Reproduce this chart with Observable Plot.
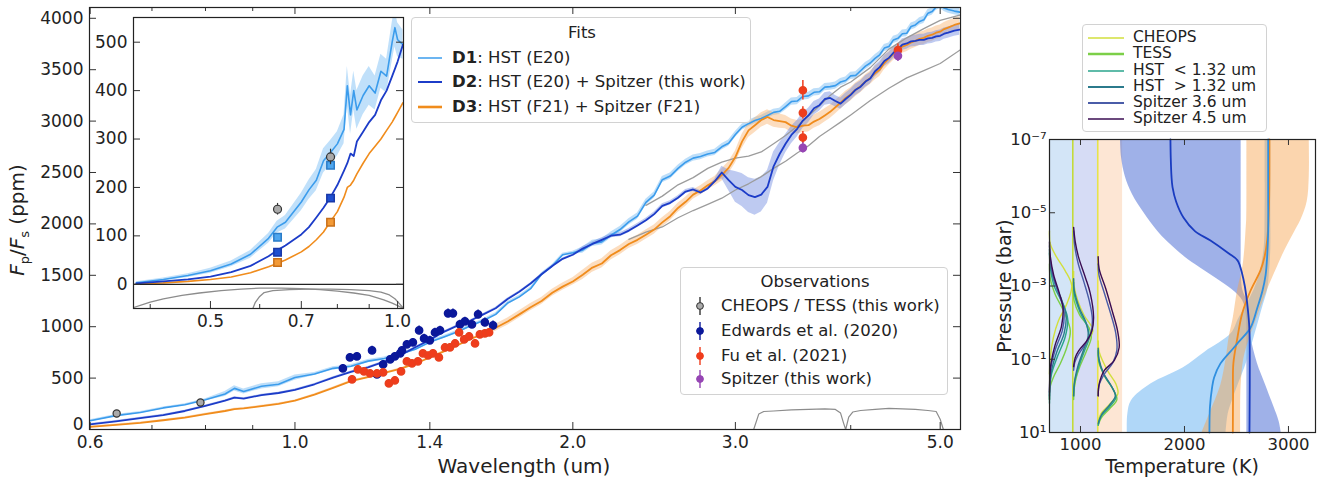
<!DOCTYPE html>
<html>
<head>
<meta charset="utf-8">
<script src="https://cdn.jsdelivr.net/npm/d3@7"></script>
<script src="https://cdn.jsdelivr.net/npm/@observablehq/plot@0.6"></script>
<style>
html,body{margin:0;padding:0;background:#fff;}
#root{position:relative;width:1330px;height:483px;overflow:hidden;font-family:"DejaVu Sans",sans-serif;color:#222;}
.lg{position:absolute;box-sizing:border-box;background:rgba(255,255,255,0.88);border:1px solid #d2d2d2;border-radius:4px;}
.lg .t{position:absolute;white-space:pre;line-height:1;}
.lab{position:absolute;white-space:nowrap;line-height:1;}
</style>
</head>
<body>
<div id="root"></div>
<script>
// ================= MAIN PANEL DATA =================
const mainXTicks = [0.6, 1.0, 1.4, 2.0, 3.0, 5.0];
const mainXMinor = [0.7, 0.8, 0.9, 4.0];
const mainYTicks = [0, 500, 1000, 1500, 2000, 2500, 3000, 3500, 4000];

const mainW = [0.60,0.64,0.68,0.72,0.76,0.80,0.84,0.86,0.88,0.92,0.96,1.00,
  1.05,1.10,1.15,1.20,1.25,1.30,1.35,1.40,1.45,1.50,1.55,1.60,1.65,1.70,1.75,1.80,1.85,1.90,1.95,2.00,
  2.05,2.10,2.15,2.20,2.25,2.30,2.35,2.40,2.45,2.50,2.55,2.60,2.65,2.70,2.75,2.80,2.85,2.90,2.95,3.00,
  3.05,3.10,3.15,3.20,3.25,3.30,3.35,
  3.40,3.45,3.50,3.55,3.60,3.65,3.70,3.75,3.80,3.85,3.90,3.95,4.00,4.05,4.10,4.15,4.20,4.25,4.30,4.35,
  4.40,4.45,4.50,4.55,4.60,4.65,4.70,4.75,4.80,4.85,4.90,4.95,5.00,5.05,5.10,5.18,5.25];
const d1Main = [85,135,165,210,240,290,345,400,370,420,440,505,
  540,595,615,665,690,735,780,850,900,950,1010,1060,1120,1230,1290,1370,1510,1590,1700,1720,
  1745,1810,1825,1890,1945,2020,2075,2210,2280,2430,2465,2540,2600,2640,2655,2680,2695,2750,2785,2870,
  2940,2975,3005,3025,3055,3085,3095,
  3140,3190,3195,3240,3245,3280,3285,3330,3335,3345,3380,3395,3440,3445,3490,3535,3565,3610,3645,3710,
  3725,3790,3805,3850,3855,3920,3935,3970,3985,4050,4065,4110,4130,4100,4085,4070,4060];
const d1Err = [10,10,10,10,10,10,25,25,25,25,25,25,
  15,15,15,15,15,15,15,15,15,15,15,15,15,15,15,15,15,15,15,15,
  30,30,30,30,30,30,30,30,30,30,30,30,30,30,30,30,30,30,30,30,
  30,30,30,30,30,30,30,
  35,35,35,35,35,35,35,35,35,35,35,35,35,35,35,35,35,35,35,35,
  35,35,35,35,35,35,35,35,35,35,35,35,35,35,35,35,35];
const d2Main = [50,80,110,140,180,230,280,310,300,335,355,385,
  440,505,560,605,660,720,800,870,950,1010,1060,1120,1180,1270,1340,1420,1510,1590,1660,1700,
  1760,1805,1845,1885,1895,1935,1985,2035,2095,2175,2205,2255,2315,2335,2305,2345,2415,2500,2425,2360,
  2330,2280,2260,2285,2360,2560,2680,
  2780,2865,2925,3005,3055,3125,3155,3215,3225,3195,3170,3215,3255,3305,3335,3385,3415,3485,3525,3585,
  3615,3665,3700,3745,3755,3775,3780,3790,3790,3805,3810,3825,3830,3850,3860,3880,3890];
const d2Err = [8,8,8,8,8,8,8,8,8,8,8,8,
  8,8,8,8,8,8,8,8,8,8,8,8,8,8,8,8,8,8,8,8,
  20,20,20,20,20,20,20,20,20,20,20,20,20,20,20,20,20,60,100,150,
  160,170,175,170,160,140,110,
  90,85,80,75,70,65,60,60,60,55,55,55,55,55,55,55,55,55,55,55,
  55,55,55,55,55,55,55,55,55,55,55,55,55,55,55,55,55];
const d3Main = [25,45,65,90,115,150,180,198,205,228,250,280,
  340,405,470,510,550,590,640,700,760,820,880,930,990,1050,1120,1190,1250,1330,1390,1440,
  1505,1575,1615,1695,1745,1805,1845,1895,1945,2015,2075,2155,2215,2285,2325,2375,2415,2475,2545,2650,
  2800,2910,2960,3010,3040,3010,3000,
  2990,2955,2940,2955,2960,2995,3020,3055,3090,3135,3180,3225,3260,3305,3340,3385,3420,3465,3500,3565,
  3610,3655,3690,3725,3740,3765,3780,3800,3810,3830,3840,3860,3870,3895,3910,3935,3950];
const d3Err = [8,8,8,8,8,8,8,8,8,8,8,8,
  8,8,8,8,8,8,8,8,8,8,8,8,35,35,35,35,35,35,35,35,
  45,45,45,45,45,45,45,45,45,45,45,45,45,45,45,45,45,60,60,60,
  70,70,70,70,70,70,70,
  65,65,65,65,65,65,65,65,65,65,65,65,65,65,65,65,65,65,65,65,
  65,65,65,65,65,65,65,65,65,65,65,65,65,65,65,65,65];

// reference (grey) spectra
const gray1W = [2.40,2.50,2.60,2.70,2.80,2.90,3.00,3.10,3.20,3.30,3.40,3.50,3.60,3.70,3.80,3.90,4.00,4.20,4.40,4.60,4.80,5.00,5.25];
const gray1V = [2180,2270,2380,2450,2540,2600,2640,2660,2700,2780,2860,2950,3050,3150,3250,3330,3380,3520,3700,3810,3900,3980,4030];
const gray2W = [2.30,2.40,2.50,2.60,2.70,2.80,2.90,3.00,3.10,3.20,3.30,3.40,3.50,3.60,3.70,3.80,3.90,4.00,4.20,4.40,4.60,4.80,5.00,5.25];
const gray2V = [1850,1920,1970,2060,2130,2190,2250,2330,2390,2460,2540,2610,2690,2760,2850,2920,2990,3060,3200,3320,3420,3490,3560,3690];

// Spitzer bandpasses (scaled)
const spzBandW = [3.14,3.18,3.22,3.30,3.45,3.60,3.75,3.85,3.90,3.93,3.95,3.98,4.02,4.10,4.25,4.40,4.55,4.70,4.85,4.95,5.00,5.04];
const spzBandV = [0,150,175,180,190,195,200,195,160,60,0,120,170,185,195,205,200,195,185,175,100,0];

// observations
const obsW = [0.641, 0.79];
const obsV = [155, 263];
const obsE = [12, 16];
const edW = [1.127,1.147,1.167,1.212,1.227,1.246,1.268,1.283,1.300,1.306,1.322,1.342,1.363,1.380,1.400,1.418,1.436,1.465,1.483,1.509,1.528,1.555,1.579,1.606,1.639];
const edV = [594,701,711,769,536,633,682,711,740,769,828,847,964,886,867,944,964,1130,1130,1022,1052,1022,1120,1042,1013];
const edE = [38,38,38,40,38,38,38,38,38,38,38,38,42,40,40,40,40,42,42,40,40,40,42,42,42];
const fuW = [1.153,1.170,1.188,1.206,1.227,1.246,1.264,1.283,1.303,1.322,1.339,1.359,1.376,1.394,1.411,1.432,1.454,1.472,1.491,1.506,1.525,1.544,1.567,1.586,1.606,1.623];
const fuV = [487,584,565,545,545,555,448,477,565,662,643,662,740,720,740,701,798,798,837,944,876,905,837,925,935,944];
const fuE = [35,35,35,35,35,35,35,35,35,35,35,35,35,35,35,35,38,38,38,38,38,38,38,38,38,38];
const fuSpW = [3.55, 3.55, 3.55, 4.50];
const fuSpV = [3300, 3080, 2840, 3690];
const fuSpE = [95, 60, 60, 60];
const spW = [3.55, 4.50];
const spV = [2740, 3635];
const spE = [50, 55];

// ================= INSET DATA =================
const inXTicks = [0.5, 0.7, 1.0];
const inXMinor = [0.4, 0.6, 0.8, 0.9];
const inYTicks = [0, 100, 200, 300, 400, 500];
const inW = [0.38,0.42,0.46,0.50,0.54,0.58,0.62,0.64,0.66,0.70,0.72,0.74,0.76,0.78,0.80,0.82,0.83,0.84,0.85,0.86,0.88,0.90,0.92,0.94,0.96,0.98,0.99,1.00,1.02];
const d1In = [3,10,18,28,42,62,95,118,128,170,195,215,255,272,290,320,410,350,400,360,390,410,395,440,430,500,530,505,495];
const d1InErr = [2,3,4,5,6,8,10,12,14,18,20,22,25,25,25,30,40,40,40,40,40,40,35,35,35,40,40,35,30];
const d2In = [2,6,10,16,25,38,58,70,80,103,118,138,158,180,205,235,250,270,265,295,315,335,350,380,400,430,445,460,495];
const d3In = [1,3,6,10,15,24,36,43,50,67,78,92,108,130,150,180,200,205,215,228,250,270,285,300,318,335,345,355,375];
const sqW = [0.641, 0.78];
const d1Sq = [97, 246];
const d2Sq = [66, 178];
const d3Sq = [45, 128];
const cheopsBandW = [0.376,0.40,0.42,0.45,0.48,0.52,0.56,0.60,0.65,0.70,0.75,0.80,0.85,0.90,0.95,0.98,1.00,1.022];
const cheopsBandV = [-48,-37,-30,-23,-18,-13,-10,-8,-8,-9,-11,-14,-18,-23,-32,-39,-44,-50];
const tessBandW = [0.585,0.59,0.60,0.61,0.63,0.67,0.72,0.78,0.84,0.90,0.94,0.97,0.99,1.01,1.022];
const tessBandV = [-50,-38,-25,-17,-13,-11,-10,-10,-11,-13,-16,-22,-30,-42,-50];

// ================= RIGHT PANEL DATA =================
const tTicks = [1000, 2000, 3000];
const pTicks = [1e-7, 1e-5, 1e-3, 1e-1, 1e1];
const pLabels = ["10\u207B\u2077", "10\u207B\u2075", "10\u207B\u00B3", "10\u207B\u00B9", "10\u00B9"];
const colEdges = [702, 926, 1166, 1405];
const colFills = ["#d3e5f7", "#d6dcf5", "#fde6d4"];
const cfBase = [702, 934, 1170];
// [log10 P, T-offset] per column
const cfCheops = [
  [[-4.5,0],[-4.15,8],[-3.78,70],[-3.42,150],[-3.01,214],[-2.51,166],[-2.05,86],[-1.6,38],[-1.05,8],[-0.6,0]],
  [[-3.4,0],[-3.0,5],[-2.6,40],[-2.2,100],[-1.8,185],[-1.5,140],[-1.1,80],[-0.7,40],[-0.3,10],[0,0]],
  [[-1.5,0],[-1.2,10],[-0.69,90],[-0.33,170],[-0.06,190],[0.2,120],[0.49,26],[0.7,0]]];
const cfTess = [
  [[-3.6,0],[-3.2,8],[-2.77,55],[-2.32,135],[-1.78,200],[-1.32,166],[-0.87,102],[-0.51,38],[-0.24,6],[0.1,0]],
  [[-2.9,0],[-2.6,5],[-2.2,60],[-1.85,150],[-1.6,170],[-1.2,120],[-0.8,60],[-0.45,20],[-0.2,5],[0.1,0]],
  [[-1.2,0],[-0.9,8],[-0.5,70],[-0.15,150],[0.1,180],[0.35,110],[0.6,30],[0.8,0]]];
const cfHstLo = [
  [[-3.9,0],[-3.5,8],[-3.0,45],[-2.5,130],[-2.1,175],[-1.6,150],[-1.1,80],[-0.6,20],[-0.2,3],[0.2,0]],
  [[-3.1,0],[-2.8,5],[-2.3,60],[-1.9,130],[-1.6,150],[-1.2,100],[-0.8,50],[-0.45,15],[-0.25,5],[0,0]],
  [[-1.25,0],[-0.95,8],[-0.55,60],[-0.2,140],[0.05,170],[0.3,110],[0.55,30],[0.8,0]]];
const cfHstHi = [
  [[-4.0,0],[-3.6,8],[-3.1,50],[-2.6,120],[-2.2,160],[-1.7,140],[-1.2,70],[-0.7,20],[-0.3,3],[0.1,0]],
  [[-3.2,0],[-2.9,5],[-2.4,55],[-2.0,120],[-1.65,140],[-1.25,95],[-0.85,45],[-0.5,15],[-0.3,5],[0,0]],
  [[-1.3,0],[-1.0,8],[-0.6,55],[-0.25,130],[0,165],[0.25,110],[0.5,35],[0.75,0]]];
const cfS36 = [
  [[-4.1,0],[-3.7,8],[-3.2,40],[-2.7,100],[-2.3,140],[-1.8,125],[-1.3,60],[-0.8,15],[-0.4,3],[0,0]],
  [[-4.5,0],[-4.1,10],[-3.6,45],[-3.1,100],[-2.6,150],[-2.1,180],[-1.7,165],[-1.4,110],[-1.1,40],[-0.9,10],[-0.7,0]],
  [[-3.6,0],[-3.3,8],[-2.8,60],[-2.2,125],[-1.7,170],[-1.25,180],[-0.9,140],[-0.6,60],[-0.3,10],[0,0]]];
const cfS45 = [
  [[-4.2,0],[-3.8,8],[-3.3,40],[-2.8,95],[-2.4,130],[-1.9,115],[-1.4,55],[-0.9,15],[-0.5,3],[-0.1,0]],
  [[-4.6,0],[-4.2,16],[-3.78,48],[-3.24,112],[-2.8,160],[-2.14,192],[-1.78,176],[-1.51,128],[-1.23,48],[-1.05,16],[-0.8,0]],
  [[-3.8,0],[-3.46,10],[-2.92,74],[-2.29,138],[-1.78,186],[-1.32,202],[-0.96,154],[-0.69,58],[-0.33,10],[0,0]]];
const cfNames = ["CHEOPS", "TESS", "HST  < 1.32 um", "HST  > 1.32 um", "Spitzer 3.6 um", "Spitzer 4.5 um"];
const cfColors = ["#d2df3c", "#7ccf48", "#2aa58c", "#2b7a8c", "#4a5ca8", "#3a0c52"];
const cfWidths = [1.4, 1.4, 1.4, 1.4, 1.4, 1.4];
const cfLegendWidths = [1.4, 2.6, 1.6, 1.8, 2.2, 1.6];

// T-P profiles [log10 P, T]
const d1TP = [[-7,2805],[-5.5,2805],[-4.5,2805],[-3.8,2795],[-3.3,2780],[-2.87,2750],[-2.4,2700],[-1.86,2635],[-1.5,2530],[-1.3,2470],[-0.88,2345],[-0.5,2285],[-0.22,2265],[0.3,2245],[1,2240]];
const d2TP = [[-7,1865],[-6.5,1868],[-6,1875],[-5.7,1885],[-5.3,1920],[-4.87,1990],[-4.5,2100],[-4.24,2250],[-3.9,2420],[-3.7,2510],[-3.33,2555],[-3,2580],[-2.6,2600],[-2.2,2615],[-1.78,2625],[1,2625]];
const d3TP = [[-7,2817],[-5.5,2815],[-4.8,2808],[-4.24,2795],[-3.8,2770],[-3.42,2730],[-2.87,2635],[-2.25,2555],[-1.6,2510],[-0.88,2470],[0,2467],[1,2465]];
// bands [log10 P, Tlow, Thigh]
const d2Band = [[-7,1385,2545],[-6.5,1395,2545],[-6,1430,2545],[-5.5,1500,2545],[-5,1610,2545],[-4.5,1740,2545],[-4.2,1840,2545],[-3.8,2000,2545],[-3.5,2150,2545],[-3.2,2310,2548],[-2.9,2460,2560],[-2.6,2560,2600],[-2.2,2595,2625],[-1.6,2600,2640],[-0.9,2600,2700],[-0.3,2600,2780],[0.3,2600,2860],[0.7,2600,2910],[1,2600,2930]];
const d1Band = [[-7,2775,2830],[-5,2775,2830],[-4,2765,2830],[-3.3,2720,2815],[-2.9,2670,2800],[-2.5,2600,2760],[-2.1,2520,2720],[-1.7,2450,2680],[-1.2,2200,2630],[-0.77,1990,2580],[-0.33,1680,2520],[0.13,1490,2460],[0.5,1455,2420],[1,1450,2400]];
const d3Band = [[-7,2600,3200],[-6,2600,3200],[-5.3,2600,3180],[-4.8,2598,3120],[-4.43,2590,3050],[-4,2580,2970],[-3.5,2560,2890],[-2.87,2510,2795],[-2.14,2470,2700],[-1.6,2430,2630],[-1,2400,2570],[-0.3,2350,2545],[0.3,2270,2540],[1,2170,2540]];

// ================= COLOURS / NAMES =================
const fitNames = ["HST (E20)", "HST (E20) + Spitzer (this work)", "HST (F21) + Spitzer (F21)"];
const fitIds = ["D1", "D2", "D3"];
const C1 = "#3b9cec", C2 = "#1c3cc8", C3 = "#f08c1c";
const obsNames = ["CHEOPS / TESS (this work)", "Edwards et al. (2020)", "Fu et al. (2021)", "Spitzer (this work)"];
const obsColors = ["#aaaaaa", "#0b189a", "#f03c1c", "#9646b4"];

// ================= BUILD =================
const root = document.getElementById("root");
const FONT = "DejaVu Sans, sans-serif";
function place(el, left, top) { el.style.position = "absolute"; el.style.left = left + "px"; el.style.top = top + "px"; root.appendChild(el); return el; }

const mainRows = mainW.map((w, i) => ({w, d1: d1Main[i], e1: d1Err[i], d2: d2Main[i], e2: d2Err[i], d3: d3Main[i], e3: d3Err[i]}));
const pts = (W, V, E) => W.map((w, i) => ({w, v: V[i], e: E ? E[i] : 0}));

// ---- main panel ----
const mW = 1000, mH = 483, mL = 89, mR = 40, mT = 7, mB = 54;
const mIW = mW - mL - mR, mIH = mH - mT - mB;
const mainPlot = Plot.plot({
  width: mW, height: mH, marginLeft: mL, marginRight: mR, marginTop: mT, marginBottom: mB,
  style: {background: "transparent", fontFamily: FONT, fontSize: "17px", color: "#222", overflow: "visible"},
  x: {type: "log", domain: [0.599, 5.26]},
  y: {domain: [0, 4105]},
  marks: [
    Plot.line(pts(spzBandW, spzBandV), {x: "w", y: "v", stroke: "#8c8c8c", strokeWidth: 1.2}),
    Plot.areaY(mainRows, {x: "w", y1: d => d.d1 - d.e1, y2: d => d.d1 + d.e1, fill: "#6cb6f2", fillOpacity: 0.45, clip: true}),
    Plot.areaY(mainRows, {x: "w", y1: d => d.d3 - d.e3, y2: d => d.d3 + d.e3, fill: "#f8b470", fillOpacity: 0.45, clip: true}),
    Plot.areaY(mainRows, {x: "w", y1: d => d.d2 - d.e2, y2: d => d.d2 + d.e2, fill: "#6f8ae0", fillOpacity: 0.45, clip: true}),
    Plot.line(pts(gray1W, gray1V), {x: "w", y: "v", stroke: "#9c9c9c", strokeWidth: 1.3, clip: true}),
    Plot.line(pts(gray2W, gray2V), {x: "w", y: "v", stroke: "#9c9c9c", strokeWidth: 1.3, clip: true}),
    Plot.line(mainRows, {x: "w", y: "d1", stroke: C1, strokeWidth: 1.6, clip: true}),
    Plot.line(mainRows, {x: "w", y: "d3", stroke: C3, strokeWidth: 1.8, clip: true}),
    Plot.line(mainRows, {x: "w", y: "d2", stroke: C2, strokeWidth: 1.8, clip: true}),
    // error bars
    Plot.ruleX(pts(edW, edV, edE), {x: "w", y1: d => d.v - d.e, y2: d => d.v + d.e, stroke: obsColors[1], strokeWidth: 1.5}),
    Plot.ruleX(pts(fuW, fuV, fuE), {x: "w", y1: d => d.v - d.e, y2: d => d.v + d.e, stroke: obsColors[2], strokeWidth: 1.5}),
    Plot.ruleX(pts(fuSpW, fuSpV, fuSpE), {x: "w", y1: d => d.v - d.e, y2: d => d.v + d.e, stroke: obsColors[2], strokeWidth: 1.5}),
    Plot.ruleX(pts(spW, spV, spE), {x: "w", y1: d => d.v - d.e, y2: d => d.v + d.e, stroke: obsColors[3], strokeWidth: 1.5}),
    Plot.ruleX(pts(obsW, obsV, obsE), {x: "w", y1: d => d.v - d.e, y2: d => d.v + d.e, stroke: "#333", strokeWidth: 1.2}),
    Plot.dot(pts(edW, edV), {x: "w", y: "v", r: 3.6, fill: obsColors[1], stroke: obsColors[1]}),
    Plot.dot(pts(fuW, fuV), {x: "w", y: "v", r: 3.6, fill: obsColors[2], stroke: "#e8401e"}),
    Plot.dot(pts(fuSpW, fuSpV), {x: "w", y: "v", r: 3.6, fill: obsColors[2], stroke: "#e8401e"}),
    Plot.dot(pts(spW, spV), {x: "w", y: "v", r: 3.6, fill: obsColors[3], stroke: obsColors[3]}),
    Plot.dot(pts(obsW, obsV), {x: "w", y: "v", r: 3.6, fill: obsColors[0], stroke: "#333", strokeWidth: 1.2}),
    // inward ticks
    Plot.tickX(mainXTicks, {x: d => d, insetTop: mIH - 7, stroke: "#333"}),
    Plot.tickX(mainXTicks, {x: d => d, insetBottom: mIH - 7, stroke: "#333"}),
    Plot.tickX(mainXMinor, {x: d => d, insetTop: mIH - 4, stroke: "#333"}),
    Plot.tickX(mainXMinor, {x: d => d, insetBottom: mIH - 4, stroke: "#333"}),
    Plot.tickY(mainYTicks, {y: d => d, insetRight: mIW - 7, stroke: "#333"}),
    Plot.tickY(mainYTicks, {y: d => d, insetLeft: mIW - 7, stroke: "#333"}),
    Plot.axisX({ticks: mainXTicks, tickFormat: d => d.toFixed(1), tickSize: 0, tickPadding: 6, label: null}),
    Plot.axisY({ticks: mainYTicks.slice(1), tickFormat: d => String(d), tickSize: 0, tickPadding: 6, label: null}),
    Plot.axisY({ticks: mainYTicks.slice(0, 1), tickFormat: d => String(d), tickSize: 0, tickPadding: 6, dy: -5, label: null}),
    Plot.frame({stroke: "#222", strokeWidth: 1.2})
  ]
});
place(mainPlot, 0, 0);

// ---- inset ----
const iW = 420, iH = 340, iL = 133, iR = 17, iT = 17, iB = 32;
const iIW = iW - iL - iR, iIH = iH - iT - iB;
const inRows = inW.map((w, i) => ({w, d1: d1In[i], e1: d1InErr[i], d2: d2In[i], d3: d3In[i]}));
const insetPlot = Plot.plot({
  width: iW, height: iH, marginLeft: iL, marginRight: iR, marginTop: iT, marginBottom: iB,
  style: {background: "transparent", fontFamily: FONT, fontSize: "17px", color: "#222", overflow: "visible"},
  x: {type: "log", domain: [0.376, 1.022]},
  y: {domain: [-50, 551]},
  marks: [
    Plot.frame({fill: "white", stroke: null}),
    Plot.areaY(inRows, {x: "w", y1: d => d.d1 - d.e1, y2: d => d.d1 + d.e1, fill: "#8cc6f5", fillOpacity: 0.55, clip: true}),
    Plot.line(inRows, {x: "w", y: "d3", stroke: C3, strokeWidth: 1.6, clip: true}),
    Plot.line(inRows, {x: "w", y: "d1", stroke: C1, strokeWidth: 1.6, clip: true}),
    Plot.line(inRows, {x: "w", y: "d2", stroke: C2, strokeWidth: 1.8, clip: true}),
    Plot.ruleY([0], {stroke: "#222", strokeWidth: 1.2}),
    Plot.line(pts(cheopsBandW, cheopsBandV), {x: "w", y: "v", stroke: "#8c8c8c", strokeWidth: 1.3, clip: true}),
    Plot.line(pts(tessBandW, tessBandV), {x: "w", y: "v", stroke: "#8c8c8c", strokeWidth: 1.3, clip: true}),
    Plot.dot(pts(sqW, d1Sq), {x: "w", y: "v", symbol: "square", r: 4.2, fill: "#4ea6ee", stroke: "#2a7cc8"}),
    Plot.dot(pts(sqW, d2Sq), {x: "w", y: "v", symbol: "square", r: 4.2, fill: "#1f4fd0", stroke: "#1838a8"}),
    Plot.dot(pts(sqW, d3Sq), {x: "w", y: "v", symbol: "square", r: 4.2, fill: "#f39a36", stroke: "#c8701a"}),
    Plot.ruleX(pts(sqW, obsV, obsE), {x: "w", y1: d => d.v - d.e, y2: d => d.v + d.e, stroke: "#333", strokeWidth: 1.2}),
    Plot.dot(pts(sqW, obsV), {x: "w", y: "v", r: 4, fill: "#aaaaaa", stroke: "#333", strokeWidth: 1.2}),
    Plot.tickX(inXTicks, {x: d => d, insetTop: iIH - 7, stroke: "#333"}),
    Plot.tickX(inXMinor, {x: d => d, insetTop: iIH - 4, stroke: "#333"}),
    Plot.tickY(inYTicks, {y: d => d, insetRight: iIW - 7, stroke: "#333"}),
    Plot.tickY(inYTicks, {y: d => d, insetLeft: iIW - 7, stroke: "#333"}),
    Plot.axisX({ticks: inXTicks, tickFormat: d => d.toFixed(1), tickSize: 0, tickPadding: 6, label: null}),
    Plot.axisY({ticks: inYTicks, tickFormat: d => String(d), tickSize: 0, tickPadding: 6, label: null}),
    Plot.frame({stroke: "#222", strokeWidth: 1.2})
  ]
});
place(insetPlot, 0, 0);

// ---- right panel ----
const rW = 330, rH = 483, rL = 49, rR = 15, rT = 139, rB = 51;
const rIW = rW - rL - rR, rIH = rH - rT - rB;
const cfSets = [cfCheops, cfTess, cfHstLo, cfHstHi, cfS36, cfS45];
const cfMarks = cfSets.map((set, f) => {
  const rows = [];
  set.forEach((col, c) => col.forEach(([lp, off]) => rows.push({T: cfBase[c] + off, P: Math.pow(10, lp), c})));
  return Plot.line(rows, {x: "T", y: "P", z: "c", stroke: cfColors[f], strokeWidth: cfWidths[f], curve: "catmull-rom"});
});
const bandMark = (band, fill, op) => Plot.areaX(band, {y: d => Math.pow(10, d[0]), x1: d => d[1], x2: d => d[2], fill, fillOpacity: op, curve: "catmull-rom"});
const tpMark = (tp, stroke) => Plot.line(tp, {y: d => Math.pow(10, d[0]), x: d => d[1], stroke, strokeWidth: 1.8, curve: "catmull-rom"});
const rightPlot = Plot.plot({
  width: rW, height: rH, marginLeft: rL, marginRight: rR, marginTop: rT, marginBottom: rB,
  style: {background: "transparent", fontFamily: FONT, fontSize: "16.5px", color: "#222", overflow: "visible"},
  x: {domain: [702, 3260]},
  y: {type: "log", domain: [pTicks[pTicks.length - 1], pTicks[0]]},
  marks: [
    ...colFills.map((fill, i) => Plot.rect([i], {x1: d => colEdges[d], x2: d => colEdges[d + 1], y1: () => pTicks[pTicks.length - 1], y2: () => pTicks[0], fill})),
    bandMark(d2Band, "#5a78d8", 0.58),
    bandMark(d1Band, "#7cbcf4", 0.6),
    bandMark(d3Band, "#f7a24c", 0.45),
    Plot.ruleX([colEdges[1]], {x: d => d, stroke: "#c4da3a", strokeWidth: 1.6}),
    Plot.ruleX([colEdges[2]], {x: d => d, stroke: "#e6e44c", strokeWidth: 1.6}),
    ...cfMarks,
    tpMark(d3TP, "#f08a1e"),
    tpMark(d1TP, "#2f8fe0"),
    tpMark(d2TP, "#1a3cc0"),
    Plot.tickX(tTicks, {x: d => d, insetTop: rIH - 6, stroke: "#333"}),
    Plot.tickX(tTicks, {x: d => d, insetBottom: rIH - 6, stroke: "#333"}),
    Plot.tickY(pTicks, {y: d => d, insetRight: rIW - 6, stroke: "#333"}),
    Plot.axisX({ticks: tTicks, tickFormat: d => String(d), tickSize: 0, tickPadding: 6, label: null}),
    Plot.axisY({ticks: pTicks, tickFormat: d => pLabels[pTicks.indexOf(d)], tickSize: 0, tickPadding: 3, label: null}),
    Plot.frame({stroke: "#222", strokeWidth: 1.2})
  ]
});
place(rightPlot, 1000, 0);

// ---- axis labels ----
function label(html, cx, cy, size, rotate) {
  const d = document.createElement("div");
  d.className = "lab";
  d.style.fontSize = size + "px";
  d.innerHTML = html;
  d.style.transform = rotate ? "translate(-50%,-50%) rotate(-90deg)" : "translate(-50%,-50%)";
  return place(d, cx, cy);
}
label("Wavelength (um)", 524, 466, 20, false);
label("<i>F</i><sub style='font-size:13px'>p</sub>/<i>F</i><sub style='font-size:13px'>s</sub> (ppm)", 19, 220, 20, true);
label("Temperature (K)", 1182, 466, 19, false);
label("Pressure (bar)", 1004, 286, 19, true);

// ---- legends ----
function legendBox(left, top, w, h) {
  const d = document.createElement("div");
  d.className = "lg";
  d.style.width = w + "px"; d.style.height = h + "px";
  return place(d, left, top);
}
function legText(box, html, x, cy, size, center) {
  const t = document.createElement("div");
  t.className = "t";
  t.style.fontSize = size + "px";
  t.innerHTML = html;
  t.style.top = (cy - 0.5 * size) + "px";
  if (center) { t.style.left = x + "px"; t.style.transform = "translateX(-50%)"; }
  else t.style.left = x + "px";
  box.appendChild(t);
}
function legSvg(box, x, y, w, h, inner) {
  const ns = "http://www.w3.org/2000/svg";
  const s = document.createElementNS(ns, "svg");
  s.setAttribute("width", w); s.setAttribute("height", h);
  s.style.position = "absolute"; s.style.left = x + "px"; s.style.top = y + "px";
  s.innerHTML = inner;
  box.appendChild(s);
}
// Fits legend
const fits = legendBox(411, 17, 340, 106);
legText(fits, "Fits", 170, 15, 16.5, true);
const fitColors = [C1, C2, C3], fitW = [1.5, 2, 2.6];
[40, 64, 89].forEach((cy, i) => {
  legSvg(fits, 5, cy - 5, 26, 10, `<line x1="1" y1="5" x2="25" y2="5" stroke="${fitColors[i]}" stroke-width="${fitW[i]}"/>`);
  legText(fits, `<b>${fitIds[i]}</b>: ${fitNames[i]}`, 40, cy, 16.5, false);
});
// Observations legend
const obs = legendBox(680, 267, 268, 128);
legText(obs, "Observations", 134, 14, 16.5, true);
[38, 63, 88, 111].forEach((cy, i) => {
  const stroke = i === 0 ? "#333" : obsColors[i];
  legSvg(obs, 12, cy - 10, 14, 20, `<line x1="7" y1="1" x2="7" y2="19" stroke="${stroke}" stroke-width="1.4"/><circle cx="7" cy="10" r="3.4" fill="${obsColors[i]}" stroke="${stroke}" stroke-width="1"/>`);
  legText(obs, obsNames[i], 40, cy, 16.5, false);
});
// right legend
const rl = legendBox(1082, 24, 185, 108);
[13, 29, 46, 62, 78, 94].forEach((cy, i) => {
  legSvg(rl, 4, cy - 5, 38, 10, `<line x1="1" y1="5" x2="37" y2="5" stroke="${cfColors[i]}" stroke-width="${cfLegendWidths[i]}"/>`);
  legText(rl, cfNames[i], 50, cy, 15.5, false);
});
</script>
</body>
</html>
